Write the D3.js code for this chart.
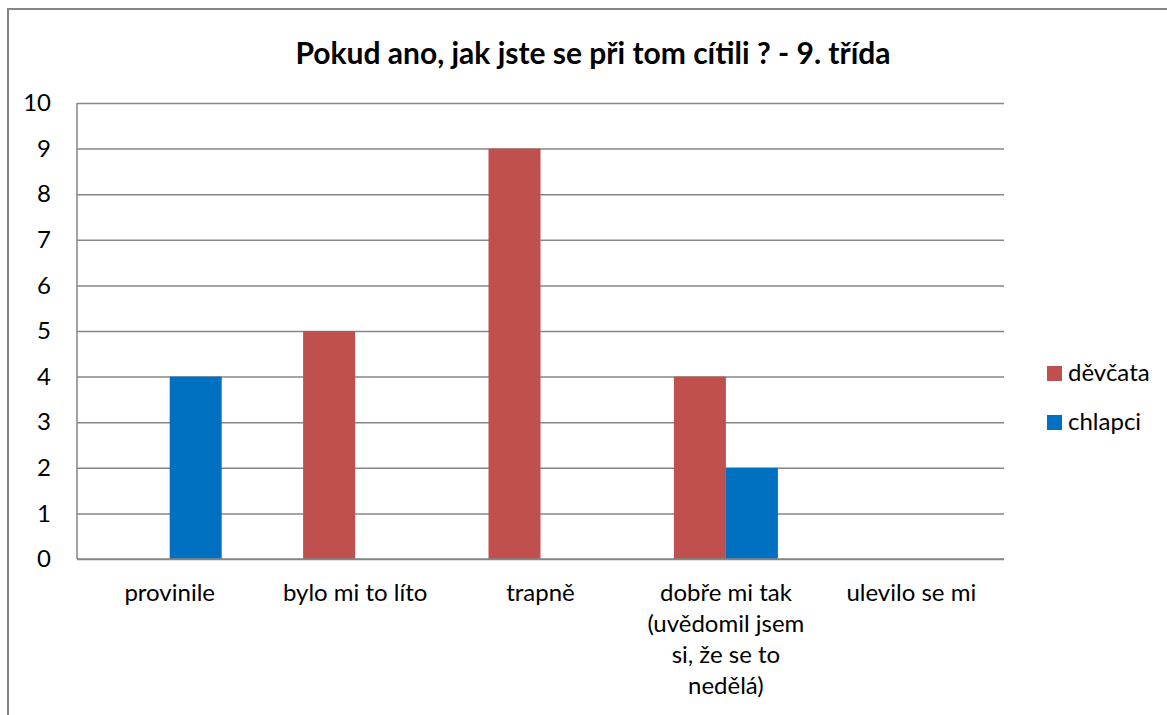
<!DOCTYPE html>
<html><head><meta charset="utf-8">
<script src="https://cdn.jsdelivr.net/npm/d3@7"></script>
<style>body{margin:0;background:#fff}svg{display:block}text{font-family:Lato,"Open Sans",sans-serif}</style>
</head><body>
<script>
const title = "Pokud ano, jak jste se při tom cítili ? - 9. třída";
const categories = ["provinile","bylo mi to líto","trapně","dobře mi tak (uvědomil jsem si, že se to nedělá)","ulevilo se mi"];
const categoryLines = [["provinile"],["bylo mi to líto"],["trapně"],["dobře mi tak","(uvědomil jsem","si, že se to","nedělá)"],["ulevilo se mi"]];
const seriesNames = ["děvčata","chlapci"];
const devcata = [0,5,9,4,0];
const chlapci = [4,0,0,2,0];
const yTicks = [0,1,2,3,4,5,6,7,8,9,10];
const colors = ["#C0504D","#0070C0"];

(function(){
const W=1167,H=715;
const svg=d3.select("body").append("svg").attr("width",W).attr("height",H);
svg.append("rect").attr("x",8).attr("y",9).attr("width",W+10).attr("height",H+10)
  .attr("fill","#fff").attr("stroke","#868686").attr("stroke-width",2);
const pl=77,pr=1004,pt=103,pb=559;
const x=d3.scaleBand().domain(d3.range(categories.length)).range([pl,pr]).paddingInner(0).paddingOuter(0);
const y=d3.scaleLinear().domain([0,10]).range([pb,pt]);
const bw=52;
const xs=d3.scaleBand().domain([0,1]).range([0,bw*2]);
svg.append("text").attr("x",593).attr("y",64).attr("text-anchor","middle")
  .attr("font-size",30).attr("font-weight","bold").attr("fill","#000").text(title);
const yAxis=d3.axisLeft(y).tickValues(yTicks).tickSize(-(pr-pl)).tickFormat(d3.format("d"));
const ga=svg.append("g").attr("transform",`translate(${pl},0)`).call(yAxis);
ga.select(".domain").remove();
ga.selectAll(".tick line").attr("stroke","#868686").attr("stroke-width",1.5);
ga.selectAll(".tick text").attr("x",-26).attr("font-size",24).attr("fill","#000").attr("font-family","Lato");
svg.append("line").attr("x1",pl).attr("x2",pl).attr("y1",pt).attr("y2",pb).attr("stroke","#868686").attr("stroke-width",1.5);
const data=[devcata,chlapci];
data.forEach((arr,si)=>{
  svg.append("g").selectAll("rect").data(arr).join("rect")
   .attr("x",(d,i)=>x(i)+x.bandwidth()/2-bw+xs(si))
   .attr("width",xs.bandwidth())
   .attr("y",d=>y(d)).attr("height",d=>y(0)-y(d)).attr("fill",colors[si]);
});
svg.append("line").attr("x1",pl).attr("x2",pr).attr("y1",pb).attr("y2",pb).attr("stroke","#868686").attr("stroke-width",1.5);
categoryLines.forEach((lines,i)=>{
  const t=svg.append("text").attr("text-anchor","middle").attr("font-size",24).attr("fill","#000");
  lines.forEach((l,j)=>t.append("tspan").attr("x",x(i)+x.bandwidth()/2).attr("y",601+j*31).text(l));
});
seriesNames.forEach((n,i)=>{
  const yy=366+i*49;
  svg.append("rect").attr("x",1047).attr("y",yy).attr("width",15).attr("height",15).attr("fill",colors[i]);
  svg.append("text").attr("x",1068).attr("y",yy+15).attr("font-size",24).attr("fill","#000").text(n);
});
})();
</script>
</body></html>
